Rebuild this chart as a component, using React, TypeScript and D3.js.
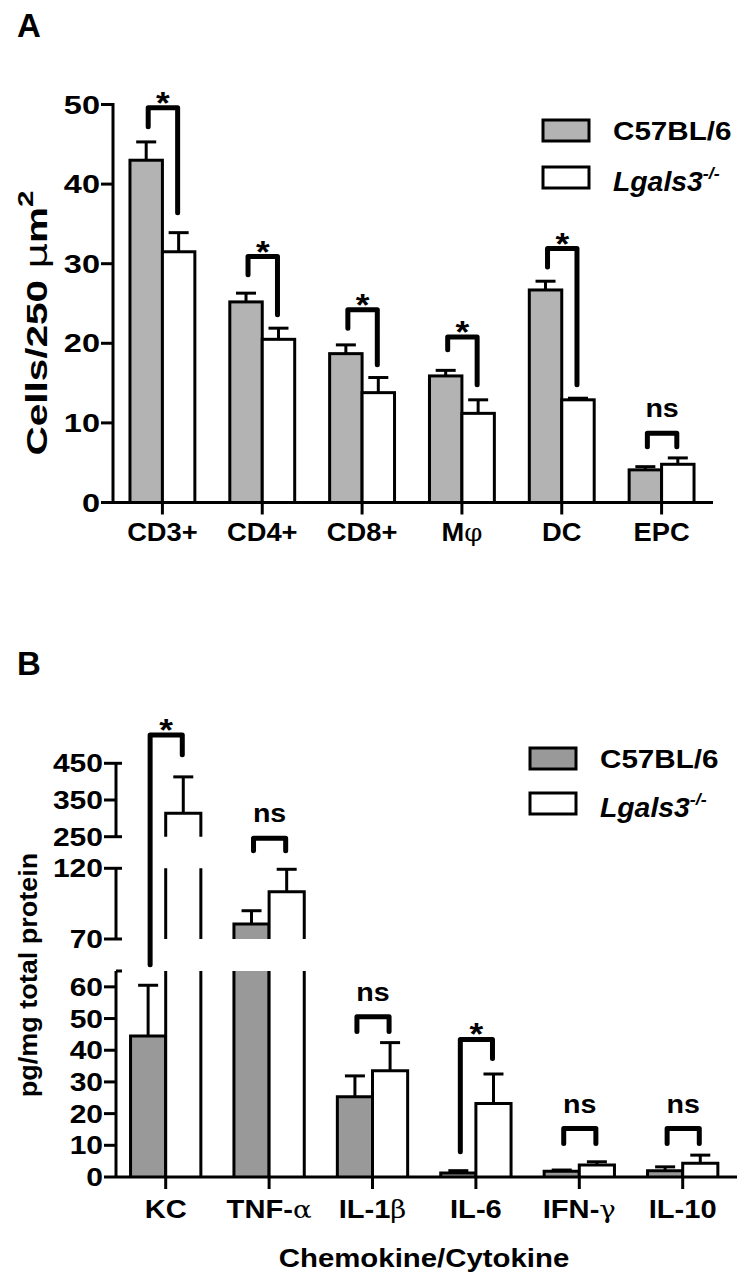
import React from "react";
import * as d3 from "d3";

// ---------- Panel A data ----------
const catsA = ["CD3+", "CD4+", "CD8+", "Mφ", "DC", "EPC"];
const wtA = [43.0, 25.2, 18.7, 15.9, 26.7, 4.1];
const wtSemA = [2.3, 1.1, 1.1, 0.7, 1.1, 0.4];
const koA = [31.5, 20.5, 13.8, 11.2, 12.9, 4.8];
const koSemA = [2.4, 1.4, 1.9, 1.7, 0.2, 0.8];
const sigA = ["*", "*", "*", "*", "*", "ns"];
const brTopA = [49.6, 30.9, 24.2, 20.8, 31.9, 8.7];
const brLeftA = [47.2, 28.6, 21.9, 19.2, 29.6, 7.0];
const brRightA = [36.4, 23.6, 17.3, 14.8, 14.8, 7.0];
const ticksA = [0, 10, 20, 30, 40, 50];

// ---------- Panel B data ----------
const catsB = ["KC", "TNF-α", "IL-1β", "IL-6", "IFN-γ", "IL-10"];
const wtB = [44.5, 80.6, 25.3, 1.3, 1.8, 2.0];
const wtSemB = [16.0, 9.4, 6.6, 0.7, 0.4, 1.2];
const koB = [314, 103.5, 33.5, 23.2, 3.8, 4.3];
const koSemB = [99, 15.8, 8.9, 9.3, 1.0, 2.6];
const sigB = ["*", "ns", "ns", "*", "ns", "ns"];
const brTopB = [527, 141.3, 50.6, 43.4, 15.3, 15.3];
const brLeftB = [67, 132.5, 45.9, 8.0, 10.6, 10.6];
const brRightB = [473, 132.5, 45.9, 37.4, 10.6, 10.6];
const segDomainsB = [[0, 65], [70, 120], [250, 450]];
const segTicksB = [[0, 10, 20, 30, 40, 50, 60], [70, 120], [250, 350, 450]];

const FONT = "'Liberation Sans', Arial, Helvetica, sans-serif";
const GRAY_A = "#b3b3b3";
const GRAY_B = "#999999";

// Bold text, horizontally widened to mimic the reference's wide sans face
function T({
  x, y, sx = 1, size, anchor = "start", rotate = false, italic = false, children,
}: {
  x: number; y: number; sx?: number; size: number; anchor?: string; rotate?: boolean; italic?: boolean; children: React.ReactNode;
}) {
  const tr = `translate(${x},${y})${rotate ? " rotate(-90)" : ""} scale(${sx},1)`;
  return (
    <text
      transform={tr}
      textAnchor={anchor}
      fontFamily={FONT}
      fontWeight="bold"
      fontStyle={italic ? "italic" : "normal"}
      fontSize={size}
    >
      {children}
    </text>
  );
}

function splitLabel(l: string) {
  const m = l.match(/^(.*?)([αβγφ])$/);
  if (!m) return <>{l}</>;
  return (
    <>
      {m[1]}
      <tspan fontWeight="normal" fontFamily="'DejaVu Serif', serif" fontSize="0.95em">{m[2]}</tspan>
    </>
  );
}

function Legend({ x, y1, y2, gray }: { x: number; y1: number; y2: number; gray: string }) {
  return (
    <g>
      <rect x={x} y={y1 - 20} width={46} height={21} fill={gray} stroke="#000" strokeWidth={3} />
      <rect x={x} y={y2 - 22} width={46} height={21} fill="#fff" stroke="#000" strokeWidth={3} />
      <T x={x + 70} y={y1} size={26} sx={1.14}>C57BL/6</T>
      <T x={x + 70} y={y2 + 2} size={27} sx={1.05} italic>
        Lgals3
        <tspan fontSize={17} dy={-12}>-/-</tspan>
      </T>
    </g>
  );
}

function PanelA() {
  const x = d3.scaleBand<string>().domain(catsA).range([112.5, 711.5]).paddingInner(0.35).paddingOuter(0.175);
  const y = d3.scaleLinear().domain([0, 50]).range([502.5, 104.5]);
  const bw = x.bandwidth() / 2;
  const axX = 113;
  return (
    <g>
      <T x={17} y={37} size={33}>A</T>
      {catsA.map((c, i) => {
        const x0 = x(c)!;
        const gc = x0 + bw / 2;
        const wc = x0 + bw * 1.5;
        const lx = gc + 2;
        const rx = wc - 1;
        return (
          <g key={c}>
            <line x1={gc} x2={gc} y1={y(wtA[i])} y2={y(wtA[i] + wtSemA[i])} stroke="#000" strokeWidth={3} />
            <line x1={gc - 10} x2={gc + 10} y1={y(wtA[i] + wtSemA[i])} y2={y(wtA[i] + wtSemA[i])} stroke="#000" strokeWidth={3} />
            <line x1={wc} x2={wc} y1={y(koA[i])} y2={y(koA[i] + koSemA[i])} stroke="#000" strokeWidth={3} />
            <line x1={wc - 10} x2={wc + 10} y1={y(koA[i] + koSemA[i])} y2={y(koA[i] + koSemA[i])} stroke="#000" strokeWidth={3} />
            <rect x={x0} y={y(wtA[i])} width={bw} height={y(0) - y(wtA[i])} fill={GRAY_A} stroke="#000" strokeWidth={3} />
            <rect x={x0 + bw} y={y(koA[i])} width={bw} height={y(0) - y(koA[i])} fill="#fff" stroke="#000" strokeWidth={3} />
            <path
              d={`M${lx},${y(brLeftA[i])}V${y(brTopA[i])}H${rx}V${y(brRightA[i])}`}
              fill="none" stroke="#000" strokeWidth={5} strokeLinecap="round" strokeLinejoin="round"
            />
            <T
              x={(lx + rx) / 2}
              y={sigA[i] === "*" ? y(brTopA[i]) + 6 : y(brTopA[i]) - 16}
              anchor="middle" size={sigA[i] === "*" ? 32 : 26} sx={1.1}
            >
              {sigA[i]}
            </T>
            <line x1={x0 + bw} x2={x0 + bw} y1={y(0)} y2={y(0) + 12} stroke="#000" strokeWidth={3} />
            <T x={x0 + bw} y={541} anchor="middle" size={26} sx={1.05}>
              {splitLabel(c)}
            </T>
          </g>
        );
      })}
      <line x1={axX} x2={713} y1={y(0)} y2={y(0)} stroke="#000" strokeWidth={3} />
      <line x1={axX} x2={axX} y1={y(50) - 1.5} y2={y(0) + 1.5} stroke="#000" strokeWidth={3} />
      {ticksA.map((t) => (
        <g key={t}>
          <line x1={axX - 12} x2={axX} y1={y(t)} y2={y(t)} stroke="#000" strokeWidth={3} />
          <T x={axX - 13} y={y(t) + 9} anchor="end" size={25} sx={1.3}>{String(t)}</T>
        </g>
      ))}
      <T x={47} y={323} rotate anchor="middle" size={30} sx={1.35}>
        Cells/250{" "}
        <tspan fontWeight="normal" fontFamily="'DejaVu Sans', sans-serif">μ</tspan>m
        <tspan fontSize={22} dy={-14}>2</tspan>
      </T>
      <Legend x={543} y1={140} y2={189} gray={GRAY_A} />
    </g>
  );
}

function PanelB() {
  const x = d3.scaleBand<string>().domain(catsB).range([114, 734.4]).paddingInner(0.32).paddingOuter(0.16);
  const bw = x.bandwidth() / 2;
  const segRanges = [[1177, 971], [939, 868.3], [836.7, 763.3]];
  const segs = segDomainsB.map((d, k) => d3.scaleLinear().domain(d).range(segRanges[k]));
  const yB = (v: number) => (v <= 67 ? segs[0](v) : v <= 200 ? segs[1](v) : segs[2](v));
  const axX = 116;

  const barPieces = (x0: number, v: number, fill: string, key: string) =>
    segs.map((s, k) => {
      const [lo, hi] = segDomainsB[k];
      if (v <= lo) return null;
      const y0 = s(lo);
      const y1 = s(Math.min(v, hi));
      const closed = v <= hi;
      const d = closed
        ? `M${x0},${y0}V${y1}H${x0 + bw}V${y0}`
        : `M${x0},${y0}V${y1}M${x0 + bw},${y1}V${y0}`;
      return (
        <g key={key + k}>
          <rect x={x0} y={y1} width={bw} height={y0 - y1} fill={fill} />
          <path d={d} fill="none" stroke="#000" strokeWidth={3} strokeLinejoin="miter" />
        </g>
      );
    });

  return (
    <g>
      <T x={17} y={675} size={33}>B</T>
      {catsB.map((c, i) => {
        const x0 = x(c)!;
        const gc = x0 + bw / 2;
        const wc = x0 + bw * 1.5;
        const lx = gc + 2;
        const rx = wc - 1;
        const wTop = wtB[i] + wtSemB[i];
        const kTop = koB[i] + koSemB[i];
        return (
          <g key={c}>
            <line x1={gc} x2={gc} y1={yB(wtB[i])} y2={yB(wTop)} stroke="#000" strokeWidth={3} />
            <line x1={gc - 10} x2={gc + 10} y1={yB(wTop)} y2={yB(wTop)} stroke="#000" strokeWidth={3} />
            <line x1={wc} x2={wc} y1={yB(koB[i])} y2={yB(kTop)} stroke="#000" strokeWidth={3} />
            <line x1={wc - 10} x2={wc + 10} y1={yB(kTop)} y2={yB(kTop)} stroke="#000" strokeWidth={3} />
            {barPieces(x0, wtB[i], GRAY_B, "w")}
            {barPieces(x0 + bw, koB[i], "#fff", "k")}
            <path
              d={`M${lx},${yB(brLeftB[i])}V${yB(brTopB[i])}H${rx}V${yB(brRightB[i])}`}
              fill="none" stroke="#000" strokeWidth={5} strokeLinecap="round" strokeLinejoin="round"
            />
            <T
              x={(lx + rx) / 2}
              y={sigB[i] === "*" ? yB(brTopB[i]) + 6 : yB(brTopB[i]) - 16}
              anchor="middle" size={sigB[i] === "*" ? 32 : 26} sx={1.1}
            >
              {sigB[i]}
            </T>
            <line x1={x0 + bw} x2={x0 + bw} y1={1177} y2={1189} stroke="#000" strokeWidth={3} />
            <T x={x0 + bw} y={1218} anchor="middle" size={26} sx={1.12}>
              {splitLabel(c)}
            </T>
          </g>
        );
      })}
      <line x1={axX} x2={737} y1={1177} y2={1177} stroke="#000" strokeWidth={3} />
      {segs.map((s, k) => {
        const [lo, hi] = segDomainsB[k];
        return (
          <g key={k}>
            <line x1={axX} x2={axX} y1={s(hi)} y2={s(lo)} stroke="#000" strokeWidth={3} />
            <line x1={axX} x2={axX + 6} y1={s(hi)} y2={s(hi)} stroke="#000" strokeWidth={3} />
            {k > 0 && <line x1={axX} x2={axX + 6} y1={s(lo)} y2={s(lo)} stroke="#000" strokeWidth={3} />}
            {segTicksB[k].map((t) => (
              <g key={t}>
                <line x1={axX - 12} x2={axX} y1={s(t)} y2={s(t)} stroke="#000" strokeWidth={3} />
                <T x={axX - 13} y={s(t) + 9} anchor="end" size={25} sx={1.2}>{String(t)}</T>
              </g>
            ))}
          </g>
        );
      })}
      <T x={37} y={975} rotate anchor="middle" size={25} sx={1.08}>
        pg/mg total protein
      </T>
      <T x={424} y={1267} anchor="middle" size={26} sx={1.13}>
        Chemokine/Cytokine
      </T>
      <Legend x={530} y1={768} y2={815} gray={GRAY_B} />
    </g>
  );
}

export default function App() {
  return (
    <svg
      width={747}
      height={1283}
      viewBox="0 0 747 1283"
      style={{ position: "absolute", left: 0, top: 0, background: "#fff" }}
    >
      <rect width={747} height={1283} fill="#fff" />
      <PanelA />
      <PanelB />
    </svg>
  );
}
